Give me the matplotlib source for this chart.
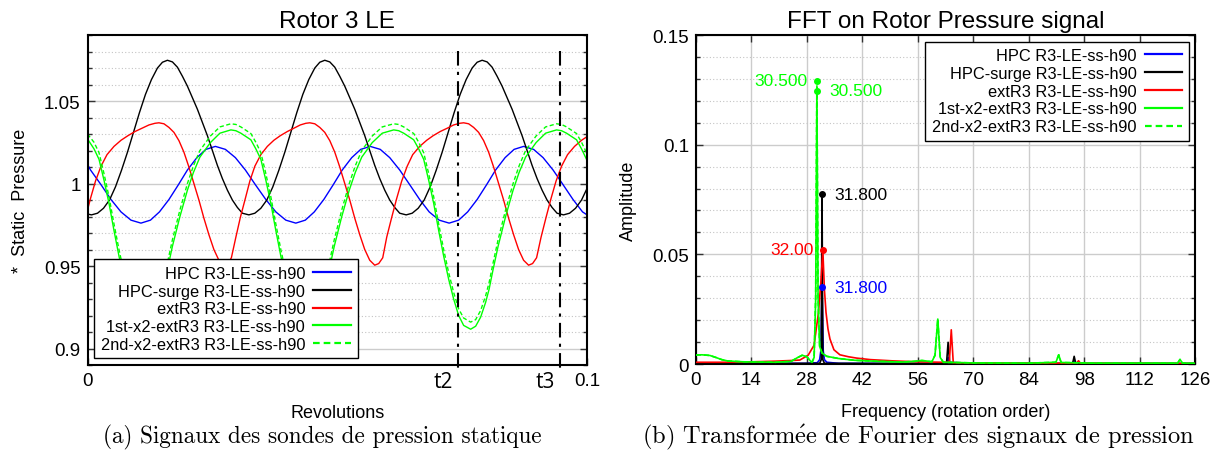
import matplotlib
matplotlib.use("Agg")
import matplotlib.pyplot as plt
from matplotlib.ticker import FixedLocator, FixedFormatter, MultipleLocator

SANS = ["Liberation Sans", "DejaVu Sans"]
SERIF = ["cmr10", "DejaVu Serif"]
plt.rcParams["mathtext.fontset"] = "cm"

LABELS = ["HPC R3-LE-ss-h90", "HPC-surge R3-LE-ss-h90", "extR3 R3-LE-ss-h90",
          "1st-x2-extR3 R3-LE-ss-h90", "2nd-x2-extR3 R3-LE-ss-h90"]
COLORS = ["#0000ff", "#000000", "#ff0000", "#00ff00", "#00ff00"]

# ---- (a) static pressure probes, x in revolutions ----
hpc_rev = [0.0000, 0.0006, 0.0027, 0.0047, 0.0067, 0.0087, 0.0107,
           0.0126, 0.0144, 0.0163, 0.0182, 0.0200, 0.0219, 0.0237, 0.0256,
           0.0276, 0.0296, 0.0316, 0.0336, 0.0357, 0.0377, 0.0397, 0.0417,
           0.0436, 0.0454, 0.0473, 0.0492, 0.0510, 0.0529, 0.0547, 0.0566,
           0.0586, 0.0605, 0.0625, 0.0645, 0.0665, 0.0684, 0.0704, 0.0724,
           0.0743, 0.0761, 0.0780, 0.0799, 0.0817, 0.0836, 0.0854, 0.0873,
           0.0893, 0.0912, 0.0932, 0.0952, 0.0972, 0.0991, 0.1000]
hpc_p = [1.0115, 1.0082, 0.9993, 0.9903, 0.9828, 0.9778, 0.9760,
         0.9778, 0.9828, 0.9903, 0.9993, 1.0082, 1.0157, 1.0207, 1.0225,
         1.0207, 1.0157, 1.0082, 0.9993, 0.9903, 0.9828, 0.9778, 0.9760,
         0.9778, 0.9828, 0.9903, 0.9993, 1.0082, 1.0157, 1.0207, 1.0225,
         1.0207, 1.0157, 1.0082, 0.9993, 0.9903, 0.9828, 0.9778, 0.9760,
         0.9778, 0.9828, 0.9903, 0.9993, 1.0082, 1.0157, 1.0207, 1.0225,
         1.0207, 1.0157, 1.0082, 0.9993, 0.9903, 0.9828, 0.9810]

surge_rev = [0.0000, 0.0008, 0.0020, 0.0032, 0.0044, 0.0056, 0.0068, 0.0080, 0.0092, 0.0104,
             0.0116, 0.0128, 0.0140, 0.0150, 0.0160, 0.0170, 0.0180, 0.0190, 0.0200, 0.0210,
             0.0220, 0.0230, 0.0240, 0.0250, 0.0260, 0.0270, 0.0280, 0.0290, 0.0300, 0.0310,
             0.0323, 0.0335, 0.0347, 0.0359, 0.0371, 0.0383, 0.0395, 0.0407, 0.0419, 0.0431,
             0.0443, 0.0455, 0.0465, 0.0475, 0.0485, 0.0495, 0.0505, 0.0515, 0.0525, 0.0535,
             0.0545, 0.0555, 0.0565, 0.0575, 0.0585, 0.0595, 0.0605, 0.0615, 0.0625,
             0.0638, 0.0650, 0.0662, 0.0674, 0.0686, 0.0698, 0.0710, 0.0722, 0.0734, 0.0746,
             0.0758, 0.0770, 0.0780, 0.0790, 0.0800, 0.0810, 0.0820, 0.0830, 0.0840, 0.0850,
             0.0860, 0.0870, 0.0880, 0.0890, 0.0900, 0.0910, 0.0920, 0.0930, 0.0940,
             0.0953, 0.0965, 0.0977, 0.0989, 0.1000]
surge_p = [0.9815, 0.9810, 0.9820, 0.9850, 0.9900, 0.9980, 1.0080, 1.0190, 1.0310, 1.0430,
           1.0540, 1.0630, 1.0700, 1.0735, 1.0747, 1.0737, 1.0705, 1.0650, 1.0590, 1.0520,
           1.0450, 1.0370, 1.0290, 1.0200, 1.0110, 1.0030, 0.9960, 0.9900, 0.9855, 0.9820,
           0.9810, 0.9820, 0.9850, 0.9900, 0.9980, 1.0080, 1.0190, 1.0310, 1.0430, 1.0540,
           1.0630, 1.0700, 1.0735, 1.0747, 1.0737, 1.0705, 1.0650, 1.0590, 1.0520, 1.0450,
           1.0370, 1.0290, 1.0200, 1.0110, 1.0030, 0.9960, 0.9900, 0.9855, 0.9820,
           0.9810, 0.9820, 0.9850, 0.9900, 0.9980, 1.0080, 1.0190, 1.0310, 1.0430, 1.0540,
           1.0630, 1.0700, 1.0735, 1.0747, 1.0737, 1.0705, 1.0650, 1.0590, 1.0520, 1.0450,
           1.0370, 1.0290, 1.0200, 1.0110, 1.0030, 0.9960, 0.9900, 0.9855, 0.9820,
           0.9810, 0.9820, 0.9850, 0.9900, 0.9970]

ext_rev = [0.0000, 0.0006, 0.0016, 0.0027, 0.0039, 0.0053, 0.0067, 0.0081, 0.0095, 0.0109,
           0.0123, 0.0135, 0.0143,
           0.0153, 0.0163, 0.0173, 0.0183, 0.0193, 0.0203, 0.0213, 0.0223, 0.0233, 0.0243,
           0.0253, 0.0263, 0.0273,
           0.0281, 0.0288, 0.0297, 0.0306, 0.0316, 0.0325, 0.0335, 0.0347, 0.0360, 0.0373,
           0.0386, 0.0400, 0.0413, 0.0426, 0.0437, 0.0445,
           0.0455, 0.0465, 0.0475, 0.0485, 0.0495, 0.0505, 0.0515, 0.0525, 0.0535, 0.0545,
           0.0555, 0.0565, 0.0575,
           0.0583, 0.0591, 0.0599, 0.0609, 0.0619, 0.0629, 0.0640, 0.0651, 0.0665, 0.0679,
           0.0692, 0.0706, 0.0720, 0.0733, 0.0745, 0.0753,
           0.0763, 0.0773, 0.0783, 0.0793, 0.0803, 0.0813, 0.0823, 0.0833, 0.0843, 0.0853,
           0.0863, 0.0873, 0.0883,
           0.0891, 0.0899, 0.0908, 0.0918, 0.0928, 0.0938, 0.0949, 0.0961, 0.0975, 0.0989,
           0.1000]
ext_p = [0.9840, 0.9910, 1.0015, 1.0105, 1.0175, 1.0225, 1.0262, 1.0290, 1.0315, 1.0335,
         1.0355, 1.0365, 1.0368,
         1.0362, 1.0340, 1.0310, 1.0260, 1.0190, 1.0100, 1.0000, 0.9900, 0.9790, 0.9690,
         0.9600, 0.9535, 0.9505,
         0.9515, 0.9550, 0.9675, 0.9795, 0.9910, 1.0015, 1.0105, 1.0175, 1.0225, 1.0262,
         1.0290, 1.0315, 1.0335, 1.0355, 1.0365, 1.0368,
         1.0362, 1.0340, 1.0310, 1.0260, 1.0190, 1.0100, 1.0000, 0.9900, 0.9790, 0.9690,
         0.9600, 0.9535, 0.9505,
         0.9515, 0.9550, 0.9675, 0.9795, 0.9910, 1.0015, 1.0105, 1.0175, 1.0225, 1.0262,
         1.0290, 1.0315, 1.0335, 1.0355, 1.0365, 1.0368,
         1.0362, 1.0340, 1.0310, 1.0260, 1.0190, 1.0100, 1.0000, 0.9900, 0.9790, 0.9690,
         0.9600, 0.9535, 0.9505,
         0.9515, 0.9550, 0.9675, 0.9795, 0.9910, 1.0015, 1.0105, 1.0175, 1.0225, 1.0262,
         1.0284]

x2_rev = [0.0000, 0.0013, 0.0023, 0.0033, 0.0043, 0.0053, 0.0063, 0.0073, 0.0083, 0.0093,
          0.0103, 0.0115,
          0.0125, 0.0135, 0.0145, 0.0152, 0.0160, 0.0170, 0.0185, 0.0200, 0.0212, 0.0225,
          0.0246, 0.0265, 0.0287,
          0.0297, 0.0307, 0.0317, 0.0327, 0.0337, 0.0347, 0.0357, 0.0367, 0.0377, 0.0387,
          0.0397, 0.0407, 0.0417, 0.0427, 0.0439,
          0.0449, 0.0459, 0.0469, 0.0476, 0.0484, 0.0494, 0.0509, 0.0524, 0.0536, 0.0549,
          0.0570, 0.0590, 0.0613,
          0.0623, 0.0633, 0.0643, 0.0653, 0.0663, 0.0673, 0.0683, 0.0693, 0.0703, 0.0713,
          0.0723, 0.0733, 0.0743, 0.0753, 0.0767,
          0.0777, 0.0787, 0.0797, 0.0804, 0.0812, 0.0822, 0.0837, 0.0852, 0.0864, 0.0877,
          0.0898, 0.0917, 0.0939,
          0.0949, 0.0959, 0.0969, 0.0979, 0.0989, 0.1000]
x2a_p = [1.0270, 1.0210, 1.0147, 1.0020, 0.9880, 0.9715, 0.9560, 0.9420, 0.9300, 0.9200,
         0.9140, 0.9117,
         0.9135, 0.9190, 0.9280, 0.9360, 0.9480, 0.9620, 0.9800, 0.9960, 1.0067, 1.0160,
         1.0248, 1.0305, 1.0325,
         1.0320, 1.0305, 1.0285, 1.0265, 1.0210, 1.0147, 1.0020, 0.9880, 0.9715, 0.9560,
         0.9420, 0.9300, 0.9200, 0.9140, 0.9117,
         0.9135, 0.9190, 0.9280, 0.9360, 0.9480, 0.9620, 0.9800, 0.9960, 1.0067, 1.0160,
         1.0248, 1.0305, 1.0325,
         1.0320, 1.0305, 1.0285, 1.0265, 1.0210, 1.0147, 1.0020, 0.9880, 0.9715, 0.9560,
         0.9420, 0.9300, 0.9200, 0.9140, 0.9117,
         0.9135, 0.9190, 0.9280, 0.9360, 0.9480, 0.9620, 0.9800, 0.9960, 1.0067, 1.0160,
         1.0248, 1.0305, 1.0325,
         1.0320, 1.0305, 1.0285, 1.0265, 1.0210, 1.0140]
x2b_p = [1.0300, 1.0250, 1.0187, 1.0060, 0.9920, 0.9755, 0.9600, 0.9460, 0.9340, 0.9240,
         0.9185, 0.9160,
         0.9175, 0.9230, 0.9320, 0.9400, 0.9520, 0.9660, 0.9840, 1.0000, 1.0107, 1.0200,
         1.0288, 1.0343, 1.0362,
         1.0358, 1.0343, 1.0323, 1.0303, 1.0250, 1.0187, 1.0060, 0.9920, 0.9755, 0.9600,
         0.9460, 0.9340, 0.9240, 0.9185, 0.9160,
         0.9175, 0.9230, 0.9320, 0.9400, 0.9520, 0.9660, 0.9840, 1.0000, 1.0107, 1.0200,
         1.0288, 1.0343, 1.0362,
         1.0358, 1.0343, 1.0323, 1.0303, 1.0250, 1.0187, 1.0060, 0.9920, 0.9755, 0.9600,
         0.9460, 0.9340, 0.9240, 0.9185, 0.9160,
         0.9175, 0.9230, 0.9320, 0.9400, 0.9520, 0.9660, 0.9840, 1.0000, 1.0107, 1.0200,
         1.0288, 1.0343, 1.0362,
         1.0358, 1.0343, 1.0323, 1.0303, 1.0250, 1.0180]

T_MARKS = [0.0741, 0.0945]
T_LABELS = ["t2", "t3"]

# ---- (b) FFT amplitude, x in rotation order ----
hpc_freq = [0, 28, 30.6, 31.2, 31.5, 31.8, 32.1, 32.4, 33.0, 36, 62.8, 63.3, 63.6,
            63.9, 70, 94.9, 95.4, 95.9, 126]
hpc_amp = [0.0003, 0.0003, 0.0006, 0.002, 0.006, 0.0349, 0.006, 0.002, 0.0008, 0.0003,
           0.0002, 0.0008, 0.003, 0.0008, 0.0002, 0.0002, 0.0015, 0.0002, 0.0002]

surge_freq = [0, 31.2, 31.6, 31.8, 32.0, 32.4, 63.2, 63.6, 64.0, 95.0, 95.4, 95.8, 126]
surge_amp = [0.0002, 0.0003, 0.002, 0.0774, 0.002, 0.0003, 0.0002, 0.0099, 0.0002,
             0.0002, 0.0035, 0.0002, 0.0002]

ext_freq = [0, 7, 14, 20, 24, 26.2, 28.3, 29.8, 30.9, 31.5, 32.0, 32.4, 32.8, 33.3,
            33.8, 34.8, 36.3, 38.5, 40.5, 44, 50, 56, 62, 63.9, 64.4, 64.9, 70, 84,
            96.0, 96.5, 97.0, 110, 126]
ext_amp = [0.0008, 0.0008, 0.001, 0.0013, 0.0016, 0.0018, 0.004, 0.0086, 0.0235, 0.037,
           0.052, 0.034, 0.0236, 0.016, 0.0114, 0.0065, 0.0042, 0.0033, 0.0027, 0.002,
           0.0014, 0.001, 0.0008, 0.0008, 0.0156, 0.0006, 0.0005, 0.0004, 0.0004, 0.0015,
           0.0003, 0.0003, 0.0002]

x2a_freq = [0, 1.5, 3.5, 5, 6.5, 8, 12, 20, 24, 25.5, 26.8, 28, 28.8, 29.3, 29.8,
            30.2, 30.5, 30.8, 31.2, 31.8, 33, 36, 40, 46, 52, 55, 57, 58.5, 59.5,
            60.3, 61.0, 61.6, 62.4, 70, 84, 90.8, 91.5, 92.1, 100, 121.5, 122.1,
            122.7, 126]
x2a_amp = [0.0041, 0.0042, 0.0039, 0.003, 0.002, 0.0014, 0.001, 0.0008, 0.0012, 0.0028,
           0.004, 0.0033, 0.0015, 0.0008, 0.003, 0.03, 0.1247, 0.03, 0.008, 0.005,
           0.0035, 0.0025, 0.0017, 0.0012, 0.0009, 0.0012, 0.0016, 0.0013, 0.001, 0.004,
           0.0205, 0.003, 0.0008, 0.0005, 0.0004, 0.0008, 0.0042, 0.0007, 0.0004, 0.0004,
           0.0021, 0.0004, 0.0003]
x2b_amp = [0.0041, 0.0042, 0.0039, 0.003, 0.002, 0.0014, 0.001, 0.0008, 0.0012, 0.0028,
           0.004, 0.0033, 0.0015, 0.0008, 0.003, 0.031, 0.1292, 0.031, 0.008, 0.005,
           0.0035, 0.0025, 0.0017, 0.0012, 0.0009, 0.0012, 0.0016, 0.0013, 0.001, 0.004,
           0.0205, 0.003, 0.0008, 0.0005, 0.0004, 0.0008, 0.0042, 0.0007, 0.0004, 0.0004,
           0.0021, 0.0004, 0.0003]

peak_freq = [30.5, 30.5, 31.8, 32.0, 31.8]
peak_amp = [0.1292, 0.1247, 0.0774, 0.052, 0.0349]
peak_text = ["30.500", "30.500", "31.800", "32.00", "31.800"]
peak_color = ["#00ff00", "#00ff00", "#000000", "#ff0000", "#0000ff"]
peak_left = [True, False, False, True, False]


def style_axes(ax):
    for s in ax.spines.values():
        s.set_linewidth(1.5)
        s.set_color("black")
    ax.tick_params(which="both", direction="in", top=True, right=True,
                   labelsize=13.5, pad=5, width=1, color="#333333")
    ax.tick_params(which="major", length=5)
    ax.tick_params(which="minor", length=3)
    ax.grid(True, which="major", axis="y", color="#cccccc", lw=1.0, ls="-")
    ax.grid(True, which="minor", axis="y", color="#c4c4c4", lw=0.8, ls=(0, (1, 2)))
    ax.set_axisbelow(True)
    for lab in ax.get_xticklabels() + ax.get_yticklabels():
        lab.set_family(SANS)


def add_legend(ax, loc):
    leg = ax.legend(loc=loc, markerfirst=False, prop={"family": SANS, "size": 11.8},
                    frameon=True, fancybox=False, framealpha=1, edgecolor="black",
                    borderaxespad=0.4, labelspacing=0.17, handlelength=2.3,
                    handletextpad=0.5, borderpad=0.4)
    leg.get_frame().set_linewidth(1.0)
    for line in leg.get_lines():
        line.set_linewidth(1.6)


fig = plt.figure(figsize=(12.24, 4.6), dpi=100)
ax1 = fig.add_axes([0.0715, 0.2043, 0.4081, 0.7174])
ax2 = fig.add_axes([0.5686, 0.2065, 0.4081, 0.7152])

# (a) time signals
series_a = [(hpc_rev, hpc_p), (surge_rev, surge_p), (ext_rev, ext_p),
            (x2_rev, x2a_p), (x2_rev, x2b_p)]
styles = ["-", "-", "-", "-", (0, (3, 1.8))]
for (xv, yv), lab, col, ls in zip(series_a, LABELS, COLORS, styles):
    ax1.plot(xv, yv, color=col, lw=1.0, ls=ls, label=lab)

for t, tl in zip(T_MARKS, T_LABELS):
    ax1.plot([t, t], [1.0805, 0.8875], color="black", lw=1.5,
             ls=(0, (7, 3, 1.5, 3)), clip_on=False, zorder=6)
    ax1.annotate(tl, xy=(t, 0), xycoords=("data", "axes fraction"),
                 xytext=(-3, -4), textcoords="offset points", ha="right", va="top",
                 fontsize=15, family=["Open Sans", "DejaVu Sans"])

ax1.set_xlim(0, 0.1)
ax1.set_ylim(0.89, 1.09)
ax1.xaxis.set_major_locator(FixedLocator([0, 0.1]))
ax1.xaxis.set_major_formatter(FixedFormatter(["0", "0.1"]))
ax1.yaxis.set_major_locator(FixedLocator([0.9, 0.95, 1.0, 1.05]))
ax1.yaxis.set_major_formatter(FixedFormatter(["0.9", "0.95", "1", "1.05"]))
ax1.yaxis.set_minor_locator(MultipleLocator(0.01))
style_axes(ax1)
ax1.tick_params(axis="x", top=False)
ax1.set_title("Rotor 3 LE", family=SANS, fontsize=17.5, pad=6)
ax1.set_xlabel("Revolutions", family=SANS, fontsize=13, labelpad=11)
ax1.set_ylabel("*  Static  Pressure", family=SANS, fontsize=13, labelpad=11)
add_legend(ax1, "lower left")

# (b) FFT
series_b = [(hpc_freq, hpc_amp), (surge_freq, surge_amp), (ext_freq, ext_amp),
            (x2a_freq, x2a_amp), (x2a_freq, x2b_amp)]
zorders = [3, 4, 5, 7, 6]
for (xv, yv), lab, col, ls, z in zip(series_b, LABELS, COLORS, styles, zorders):
    ax2.plot(xv, yv, color=col, lw=1.2, ls=ls, label=lab, zorder=z)

for f, a, txt, col, left in zip(peak_freq, peak_amp, peak_text, peak_color, peak_left):
    ax2.plot([f], [a], "o", color=col, ms=4, zorder=8)
    ax2.annotate(txt, xy=(f, a), xytext=(-6.5 if left else 9, 0),
                 textcoords="offset points", ha="right" if left else "left",
                 va="center", color=col, fontsize=12.5, family=SANS)

ax2.set_xlim(0, 126)
ax2.set_ylim(0, 0.15)
ax2.xaxis.set_major_locator(MultipleLocator(14))
ax2.yaxis.set_major_locator(FixedLocator([0, 0.05, 0.1, 0.15]))
ax2.yaxis.set_major_formatter(FixedFormatter(["0", "0.05", "0.1", "0.15"]))
ax2.yaxis.set_minor_locator(MultipleLocator(0.01))
style_axes(ax2)
ax2.grid(True, which="major", axis="x", color="#cccccc", lw=1.0, ls="-")
ax2.set_title("FFT on Rotor Pressure signal", family=SANS, fontsize=17.5, pad=6)
ax2.set_xlabel("Frequency (rotation order)", family=SANS, fontsize=13, labelpad=11)
ax2.set_ylabel("Amplitude", family=SANS, fontsize=13, labelpad=11)
add_legend(ax2, "upper right")

fig.text(0.263, 0.05, "(a) Signaux des sondes de pression statique",
         ha="center", va="center", family=SERIF, fontsize=16.7)
fig.text(0.750, 0.05, r"(b) Transform$\acute{\mathrm{e}}$e de Fourier des signaux de pression",
         ha="center", va="center", family=SERIF, fontsize=17.6)

fig.savefig("out.png", dpi=100)
